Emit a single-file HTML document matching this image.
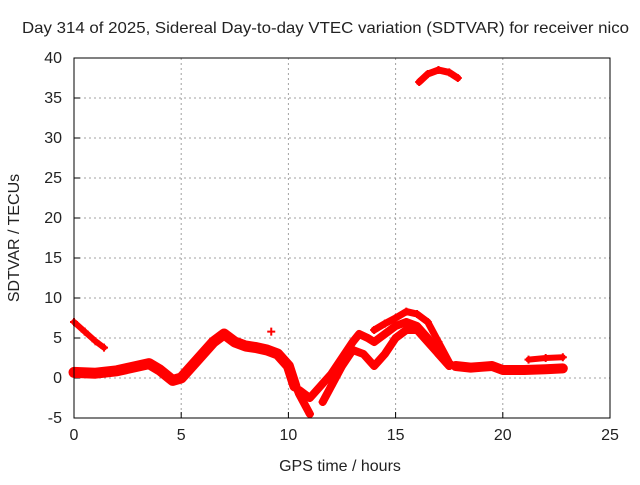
<!DOCTYPE html>
<html><head><meta charset="utf-8"><style>
body{margin:0;background:#fff}
svg text{font-family:"Liberation Sans",sans-serif;font-size:16px;fill:#222}
</style></head><body>
<svg id="chart" width="640" height="480">
<text x="22" y="33" textLength="607" lengthAdjust="spacingAndGlyphs">Day 314 of 2025, Sidereal Day-to-day VTEC variation (SDTVAR) for receiver nico</text>
<text x="340" y="471" text-anchor="middle">GPS time / hours</text>
<text transform="translate(19,238) rotate(-90)" text-anchor="middle">SDTVAR / TECUs</text>
<g id="grid"></g><g id="marks"></g>
<rect x="74" y="58" width="536" height="360" fill="none" stroke="#000" stroke-width="1"/>
</svg>
<script>
const xTicks=[0,5,10,15,20,25];
const yTicks=[-5,0,5,10,15,20,25,30,35,40];
const bandMainX=[0,1,2,3,3.5,4,4.6,5,5.5,6,6.5,7,7.5,8,8.5,9,9.5,10,10.3];
const bandMainY=[0.7,0.6,0.9,1.5,1.8,1.0,-0.3,0,1.5,3,4.5,5.5,4.5,4,3.8,3.5,3,1.5,-1];
const earlyX=[0,0.5,1,1.4];
const earlyY=[7,5.8,4.6,3.8];
const dipX=[10.2,10.5,10.8,11];
const dipY=[0,-2,-3.5,-4.5];
const strand1X=[10.5,11,11.5,12,12.5,13,13.3,13.7,14,14.5,15,15.5,16,16.5,17,17.5];
const strand1Y=[-1.5,-2.5,-1,0.5,2.5,4.5,5.5,5,4.5,5.5,6.5,7,6.5,5,3,1.5];
const strand2X=[11.6,12,12.5,13,13.5,14,14.5,15,15.5,16,16.5,17,17.5];
const strand2Y=[-3,-1,1.5,3.5,3,1.5,3,5,6,6,4.5,3,1.5];
const strand3X=[14,14.5,15,15.5,16,16.5,17,17.5];
const strand3Y=[6,6.8,7.5,8.3,8,7,4.5,2];
const flatX=[17.8,18.5,19,19.5,20,21,22,22.8];
const flatY=[1.5,1.3,1.4,1.5,1,1,1.1,1.2];
const upperX=[21.2,22,22.8];
const upperY=[2.3,2.5,2.6];
const arcX=[16.1,16.5,17,17.5,17.9];
const arcY=[37,38,38.5,38.2,37.5];
const isoX=[9.2];const isoY=[5.8];

const X0=74,X1=610,Y0=418,Y1=58;
const sx=v=>X0+(v-0)/(25-0)*(X1-X0);
const sy=v=>Y0-(v+5)/(45)*(Y0-Y1);
const NS="http://www.w3.org/2000/svg";
const svg=document.getElementById('chart');
const grid=document.getElementById('grid');
const marks=document.getElementById('marks');
function mk(t,a,p){const e=document.createElementNS(NS,t);for(const k in a)e.setAttribute(k,a[k]);p.appendChild(e);return e;}
xTicks.forEach(t=>{
  const x=sx(t);
  if(t>0&&t<25){const l=mk('line',{x1:x,x2:x,y1:Y1,y2:Y0,stroke:'#a0a0a0','stroke-dasharray':'2,3'},grid);
  
  }
  const tk=mk('line',{x1:x,x2:x,y1:Y0,y2:Y0-6,stroke:'#000'},grid);
  
  
  const tx=mk('text',{x:x,y:Y0+22,'text-anchor':'middle','font-size':'15'},svg);tx.textContent=t;
  
  
});
yTicks.forEach(t=>{
  const y=sy(t);
  if(t>-5&&t<40){const l=mk('line',{x1:X0,x2:X1,y1:y,y2:y,stroke:'#a0a0a0','stroke-dasharray':'2,3'},grid);
  
  }
  const tk=mk('line',{x1:X0,x2:X0+6,y1:y,y2:y,stroke:'#000'},grid);
  
  
  const tx=mk('text',{x:X0-12,y:y+5,'text-anchor':'end','font-size':'15'},svg);tx.textContent=t;
  
  
});
function track(xs,ys,w,name){
  const pts=xs.map((v,i)=>sx(v)+','+sy(ys[i])).join(' ');
  const p=mk('polyline',{points:pts,fill:'none',stroke:'#f00','stroke-width':w,'stroke-linejoin':'round','stroke-linecap':'round'},marks);
  
  
  xs.forEach((v,i)=>{
    const x=sx(v),y=sy(ys[i]);
    const c=mk('path',{d:`M${x-4},${y}h8M${x},${y-4}v8`,stroke:'#f00','stroke-width':2},marks);
    
    
  });
}
track(bandMainX,bandMainY,11,'main-band');
track(earlyX,earlyY,6,'early-track');
track(dipX,dipY,8,'dip-track');
track(strand1X,strand1Y,8,'strand-1');
track(strand2X,strand2Y,8,'strand-2');
track(strand3X,strand3Y,7,'strand-3');
track(flatX,flatY,10,'flat-track');
track(upperX,upperY,6,'upper-flat-track');
track(arcX,arcY,7,'arc-track');
track(isoX,isoY,2,'isolated-point');
</script>
</body></html>
